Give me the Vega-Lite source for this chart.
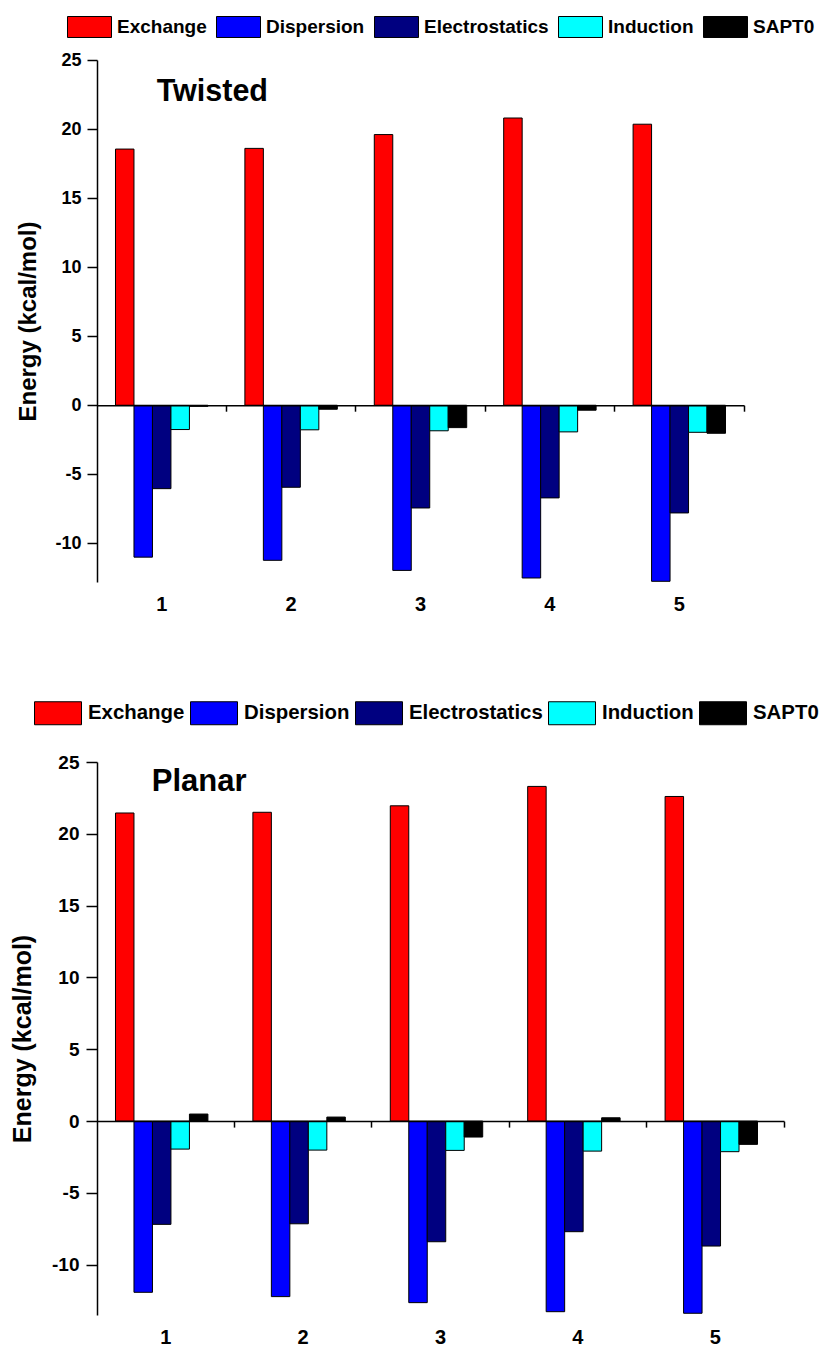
{
  "$schema": "https://vega.github.io/schema/vega-lite/v6.json",
  "padding": {"left": 10, "top": 4, "right": 0, "bottom": 0},
  "background": "white",
  "config": {
    "view": {"stroke": null},
    "font": "Liberation Sans",
    "locale": {"number": {"decimal": ".", "thousands": ",", "grouping": [3], "currency": ["$", ""], "minus": "-"}},
    "axis": {"labelFont": "Liberation Sans", "titleFont": "Liberation Sans", "labelFontWeight": "bold", "titleFontWeight": "bold", "labelColor": "black", "titleColor": "black", "domainColor": "black", "tickColor": "black", "grid": false, "labelFlush": false},
    "legend": {"labelFont": "Liberation Sans", "labelColor": "black", "padding": 0}
  },
  "datasets": {
    "twisted": [
      {"g": "1", "c": "Exchange", "v": 18.55}, {"g": "1", "c": "Dispersion", "v": -11.0}, {"g": "1", "c": "Electrostatics", "v": -6.04}, {"g": "1", "c": "Induction", "v": -1.76}, {"g": "1", "c": "SAPT0", "v": -0.08},
      {"g": "2", "c": "Exchange", "v": 18.6}, {"g": "2", "c": "Dispersion", "v": -11.23}, {"g": "2", "c": "Electrostatics", "v": -5.94}, {"g": "2", "c": "Induction", "v": -1.78}, {"g": "2", "c": "SAPT0", "v": -0.29},
      {"g": "3", "c": "Exchange", "v": 19.6}, {"g": "3", "c": "Dispersion", "v": -11.96}, {"g": "3", "c": "Electrostatics", "v": -7.44}, {"g": "3", "c": "Induction", "v": -1.85}, {"g": "3", "c": "SAPT0", "v": -1.62},
      {"g": "4", "c": "Exchange", "v": 20.8}, {"g": "4", "c": "Dispersion", "v": -12.51}, {"g": "4", "c": "Electrostatics", "v": -6.71}, {"g": "4", "c": "Induction", "v": -1.93}, {"g": "4", "c": "SAPT0", "v": -0.36},
      {"g": "5", "c": "Exchange", "v": 20.35}, {"g": "5", "c": "Dispersion", "v": -12.75}, {"g": "5", "c": "Electrostatics", "v": -7.8}, {"g": "5", "c": "Induction", "v": -1.96}, {"g": "5", "c": "SAPT0", "v": -2.03}
    ],
    "planar": [
      {"g": "1", "c": "Exchange", "v": 21.45}, {"g": "1", "c": "Dispersion", "v": -11.92}, {"g": "1", "c": "Electrostatics", "v": -7.19}, {"g": "1", "c": "Induction", "v": -1.95}, {"g": "1", "c": "SAPT0", "v": 0.49},
      {"g": "2", "c": "Exchange", "v": 21.5}, {"g": "2", "c": "Dispersion", "v": -12.22}, {"g": "2", "c": "Electrostatics", "v": -7.15}, {"g": "2", "c": "Induction", "v": -2.02}, {"g": "2", "c": "SAPT0", "v": 0.28},
      {"g": "3", "c": "Exchange", "v": 21.95}, {"g": "3", "c": "Dispersion", "v": -12.64}, {"g": "3", "c": "Electrostatics", "v": -8.4}, {"g": "3", "c": "Induction", "v": -2.04}, {"g": "3", "c": "SAPT0", "v": -1.11},
      {"g": "4", "c": "Exchange", "v": 23.3}, {"g": "4", "c": "Dispersion", "v": -13.27}, {"g": "4", "c": "Electrostatics", "v": -7.7}, {"g": "4", "c": "Induction", "v": -2.09}, {"g": "4", "c": "SAPT0", "v": 0.23},
      {"g": "5", "c": "Exchange", "v": 22.6}, {"g": "5", "c": "Dispersion", "v": -13.38}, {"g": "5", "c": "Electrostatics", "v": -8.7}, {"g": "5", "c": "Induction", "v": -2.13}, {"g": "5", "c": "SAPT0", "v": -1.62}
    ]
  },
  "align": "each",
  "spacing": 74,
  "resolve": {"scale": {"color": "independent"}, "legend": {"color": "independent"}},
  "vconcat": [
    {
      "width": 647,
      "height": 522,
      "layer": [
        {
          "data": {"name": "twisted"},
          "mark": {"type": "bar", "stroke": "black", "strokeWidth": 1},
          "encoding": {
            "x": {"field": "g", "type": "nominal", "scale": {"paddingInner": 0, "paddingOuter": 0},
              "axis": {"title": null, "domain": true, "domainWidth": 1.5, "ticks": true, "tickSize": 6, "tickWidth": 1.5, "bandPosition": 1, "offset": -176.8, "zindex": 1,
                "labelAngle": 0, "labelFontSize": 20, "labelPadding": 183, "labelDx": -64.7}},
            "xOffset": {"field": "c", "type": "nominal", "sort": ["Exchange", "Dispersion", "Electrostatics", "Induction", "SAPT0"], "scale": {"paddingInner": 0, "paddingOuter": 1.6667}},
            "y": {"field": "v", "type": "quantitative", "scale": {"domain": [-12.8, 25], "nice": false, "zero": false},
              "axis": {"title": "Energy (kcal/mol)", "titleFontSize": 24, "titlePadding": 14,
                "values": [-10, -5, 0, 5, 10, 15, 20, 25],
                "tickSize": 10,
                "labelFontSize": 18, "labelPadding": 6, "domainWidth": 1.5, "tickWidth": 1.5}},
            "color": {"field": "c", "type": "nominal",
              "scale": {"domain": ["Exchange", "Dispersion", "Electrostatics", "Induction", "SAPT0"], "range": ["#ff0000", "#0000ff", "#000080", "#00ffff", "#000000"]},
              "legend": {"orient": "none", "legendX": -30, "legendY": -55.5, "direction": "horizontal", "title": null,
                "symbolType": "M-1,-0.477H1V0.477H-1Z", "symbolSize": 1936, "symbolStrokeColor": "black", "symbolStrokeWidth": 1,
                "labelFontSize": 19, "labelFontWeight": "bold", "labelOffset": 5, "columnPadding": 7}}
          }
        },
        {
          "data": {"values": [{"t": "Twisted"}]},
          "mark": {"type": "text", "fontSize": 30.5, "fontWeight": "bold", "align": "left", "baseline": "alphabetic", "dx": -5, "font": "Liberation Sans"},
          "encoding": {
            "x": {"datum": "1", "type": "nominal"},
            "y": {"datum": 22, "type": "quantitative"},
            "text": {"field": "t"}
          }
        }
      ]
    },
    {
      "width": 687,
      "height": 553,
      "layer": [
        {
          "data": {"name": "planar"},
          "mark": {"type": "bar", "stroke": "black", "strokeWidth": 1},
          "encoding": {
            "x": {"field": "g", "type": "nominal", "scale": {"paddingInner": 0, "paddingOuter": 0},
              "axis": {"title": null, "domain": true, "domainWidth": 1.5, "ticks": true, "tickSize": 6, "tickWidth": 1.5, "bandPosition": 1, "offset": -193.9, "zindex": 1,
                "labelAngle": 0, "labelFontSize": 20, "labelPadding": 200, "labelDx": -68.7}},
            "xOffset": {"field": "c", "type": "nominal", "sort": ["Exchange", "Dispersion", "Electrostatics", "Induction", "SAPT0"], "scale": {"paddingInner": 0, "paddingOuter": 1.6667}},
            "y": {"field": "v", "type": "quantitative", "scale": {"domain": [-13.5, 25], "nice": false, "zero": false},
              "axis": {"title": "Energy (kcal/mol)", "titleFontSize": 25, "titlePadding": 16,
                "values": [-10, -5, 0, 5, 10, 15, 20, 25],
                "tickSize": 11,
                "labelFontSize": 19, "labelPadding": 7, "domainWidth": 1.5, "tickWidth": 1.5}},
            "color": {"field": "c", "type": "nominal",
              "scale": {"domain": ["Exchange", "Dispersion", "Electrostatics", "Induction", "SAPT0"], "range": ["#ff0000", "#0000ff", "#000080", "#00ffff", "#000000"]},
              "legend": {"orient": "none", "legendX": -63, "legendY": -73, "direction": "horizontal", "title": null,
                "symbolType": "M-1,-0.489H1V0.489H-1Z", "symbolSize": 2209, "symbolStrokeColor": "black", "symbolStrokeWidth": 1,
                "labelFontSize": 20.4, "labelFontWeight": "bold", "labelOffset": 6, "columnPadding": 3}}
          }
        },
        {
          "data": {"values": [{"t": "Planar"}]},
          "mark": {"type": "text", "fontSize": 31, "fontWeight": "bold", "align": "left", "baseline": "alphabetic", "dx": -14, "font": "Liberation Sans"},
          "encoding": {
            "x": {"datum": "1", "type": "nominal"},
            "y": {"datum": 23, "type": "quantitative"},
            "text": {"field": "t"}
          }
        }
      ]
    }
  ]
}
